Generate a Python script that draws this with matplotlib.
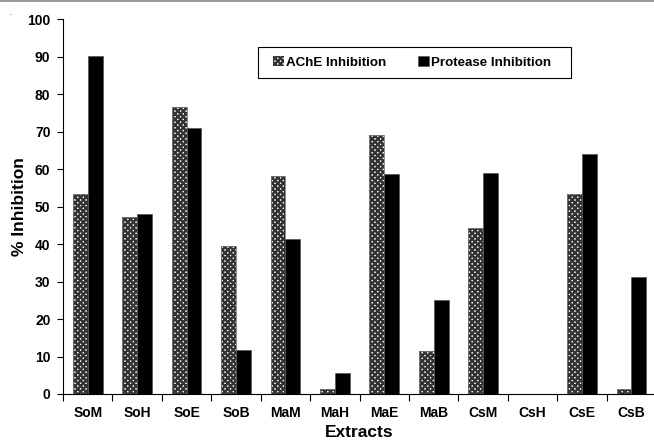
import matplotlib
matplotlib.use("Agg")
import matplotlib.pyplot as plt
import numpy as np
from matplotlib.lines import Line2D
from matplotlib.patches import Rectangle

plt.rcParams['font.family'] = ['Liberation Sans', 'DejaVu Sans']
plt.rcParams['hatch.linewidth'] = 1.7

categories = ["SoM", "SoH", "SoE", "SoB", "MaM", "MaH", "MaE", "MaB", "CsM", "CsH", "CsE", "CsB"]
ache = [53.3, 47.3, 76.5, 39.4, 58.3, 1.2, 69.2, 11.6, 44.4, 0, 53.3, 1.2]
protease = [90.3, 48.1, 71.1, 11.8, 41.3, 5.6, 58.6, 25.2, 58.9, 0, 64.2, 31.2]
yticks = list(range(0, 101, 10))

fig = plt.figure(figsize=(6.54, 4.41), dpi=100)
ax = fig.add_axes([0.0963, 0.1066, 0.907, 0.8494])

x = np.arange(len(categories))
w = 0.3
ax.bar(x - w/2, ache, w, facecolor='white', edgecolor='#333333', hatch='xxxxxx',
       linewidth=0, label='AChE Inhibition')
ax.bar(x - w/2, ache, w, fill=False, edgecolor='#777777', linewidth=0.6)
ax.bar(x + w/2, protease, w, color='black', edgecolor='#555555', linewidth=0.5,
       label='Protease Inhibition')

ax.set_xlim(-0.5, len(categories) - 0.5)
ax.set_ylim(0, 100)
ax.set_yticks(yticks)
ax.set_xticks(x)
ax.set_xticklabels(categories, fontsize=10, fontweight='bold')
ax.set_xticks(np.arange(-0.5, len(categories), 1), minor=True)
ax.tick_params(axis='x', which='major', length=0, pad=9)
ax.tick_params(axis='x', which='minor', length=5, direction='out', width=0.8)
ax.tick_params(axis='y', length=4, direction='out', width=0.8, labelsize=10, pad=5)
for lab in ax.get_yticklabels():
    lab.set_fontweight('bold')

for s in ['top', 'right']:
    ax.spines[s].set_visible(False)
for s in ['left', 'bottom']:
    ax.spines[s].set_linewidth(0.8)

ax.set_xlabel('Extracts', fontsize=12.5, fontweight='bold', labelpad=3)
ax.set_ylabel('% Inhibition', fontsize=12.5, fontweight='bold')
ax.yaxis.set_label_coords(-0.060, 0.5)

leg = fig.legend(*ax.get_legend_handles_labels(), loc='center left',
                 bbox_to_anchor=(0.4174, 0.8583), ncol=2, frameon=False,
                 prop={'weight': 'bold', 'size': 9.6},
                 handlelength=0.8, handleheight=0.8, handletextpad=0.15, columnspacing=2.4,
                 borderpad=0, borderaxespad=0)
fig.add_artist(Rectangle((0.3945, 0.8224), 0.8731 - 0.3945, 0.8941 - 0.8224,
                         transform=fig.transFigure, fill=False, edgecolor='black', linewidth=0.8))

fig.add_artist(Line2D([0, 1], [0.9975, 0.9975], transform=fig.transFigure, color='#888888', linewidth=1.2))
fig.text(0.014, 0.965, '.', fontsize=5)

fig.savefig('out.png', dpi=100)
